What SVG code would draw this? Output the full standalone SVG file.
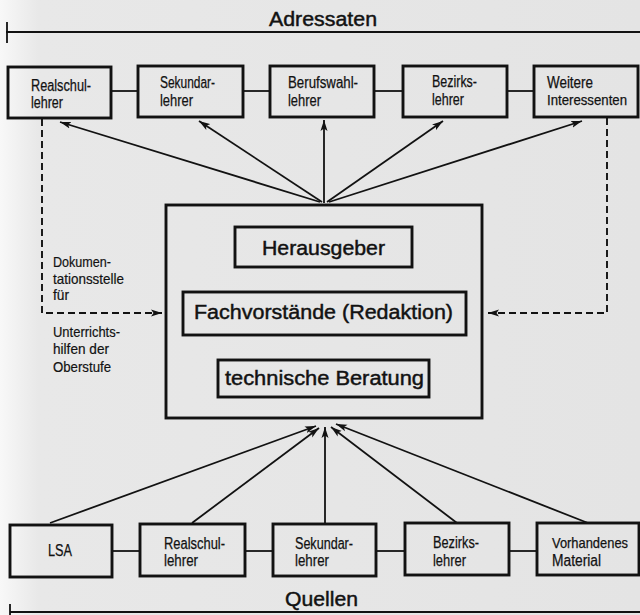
<svg xmlns="http://www.w3.org/2000/svg" width="640" height="615" viewBox="0 0 640 615">
  <defs>
    <linearGradient id="paper" x1="0" y1="0" x2="1" y2="0">
      <stop offset="0" stop-color="#f8f8f8"/>
      <stop offset="0.06" stop-color="#e8e8e8"/>
      <stop offset="1" stop-color="#e4e4e4"/>
    </linearGradient>
    <marker id="arr" markerUnits="userSpaceOnUse" markerWidth="12" markerHeight="8" refX="11" refY="4" orient="auto">
      <path d="M0,0.5 L11,4 L0,7.5 L2.5,4 z" fill="#121212"/>
    </marker>
    <style>
      .box { fill: none; stroke: #121212; stroke-width: 2.9; }
      .line { fill: none; stroke: #121212; stroke-width: 1.8; }
      .dash { fill: none; stroke: #121212; stroke-width: 1.9; stroke-dasharray: 7 4; }
      .lbl { font-family: "Liberation Sans", Arial, sans-serif; font-size: 16px; fill: #121212; stroke: #121212; stroke-width: 0.25; }
      .lbl.tight { font-size: 14.5px; }
      .side { font-family: "Liberation Sans", Arial, sans-serif; font-size: 14.5px; fill: #121212; stroke: #121212; stroke-width: 0.2; }
      .big { font-family: "Liberation Sans", Arial, sans-serif; font-size: 20px; fill: #121212; stroke: #121212; stroke-width: 0.45; }
    </style>
  </defs>

  <rect x="0" y="0" width="640" height="615" fill="url(#paper)"/>

  <!-- header / footer rules -->
  <g id="header">
    <line class="line" x1="6" y1="32" x2="640" y2="32"/>
    <line class="line" x1="7" y1="22" x2="7" y2="43"/>
    <text class="big" x="269" y="26" textLength="108" lengthAdjust="spacingAndGlyphs">Adressaten</text>
  </g>
  <g id="footer">
    <line class="line" x1="10" y1="612" x2="640" y2="612"/>
    <line class="line" x1="10" y1="604" x2="10" y2="615"/>
    <text class="big" x="285" y="606" textLength="73" lengthAdjust="spacingAndGlyphs">Quellen</text>
  </g>

  <g id="connectors">
    <!-- top row links -->
    <line class="line" x1="111" y1="91" x2="138" y2="91"/>
    <line class="line" x1="243" y1="91" x2="270" y2="91"/>
    <line class="line" x1="374" y1="91" x2="403" y2="91"/>
    <line class="line" x1="507" y1="91" x2="534" y2="91"/>
    <!-- bottom row links -->
    <line class="line" x1="112" y1="551" x2="140" y2="551"/>
    <line class="line" x1="245" y1="551" x2="273" y2="551"/>
    <line class="line" x1="376" y1="551" x2="405" y2="551"/>
    <line class="line" x1="509" y1="551" x2="537" y2="551"/>
    <!-- center to addressees -->
    <line class="line" x1="320" y1="202" x2="60" y2="122" marker-end="url(#arr)"/>
    <line class="line" x1="322" y1="202" x2="199" y2="121" marker-end="url(#arr)"/>
    <line class="line" x1="324" y1="203" x2="324" y2="120" marker-end="url(#arr)"/>
    <line class="line" x1="327" y1="202" x2="443" y2="121" marker-end="url(#arr)"/>
    <line class="line" x1="329" y1="202" x2="582" y2="121" marker-end="url(#arr)"/>
    <!-- sources to center -->
    <line class="line" x1="50" y1="523" x2="316" y2="426" marker-end="url(#arr)"/>
    <line class="line" x1="192" y1="523" x2="319" y2="428" marker-end="url(#arr)"/>
    <line class="line" x1="325" y1="523" x2="325" y2="427" marker-end="url(#arr)"/>
    <line class="line" x1="457" y1="523" x2="331" y2="427" marker-end="url(#arr)"/>
    <line class="line" x1="588" y1="523" x2="336" y2="424" marker-end="url(#arr)"/>
    <!-- dashed feedback -->
    <path class="dash" d="M42,119 V313 H162" marker-end="url(#arr)"/>
    <path class="dash" d="M607,118 V313 H488" marker-end="url(#arr)"/>
  </g>

  <!-- top row: Adressaten -->
  <g id="a-realschullehrer">
    <rect class="box" x="8" y="67" width="103" height="51"/>
    <text class="lbl" x="31" y="91" textLength="60" lengthAdjust="spacingAndGlyphs">Realschul-</text>
    <text class="lbl" x="31" y="108" textLength="32" lengthAdjust="spacingAndGlyphs">lehrer</text>
  </g>
  <g id="a-sekundarlehrer">
    <rect class="box" x="138" y="66" width="105" height="51"/>
    <text class="lbl" x="160" y="88" textLength="55" lengthAdjust="spacingAndGlyphs">Sekundar-</text>
    <text class="lbl" x="160" y="106" textLength="33" lengthAdjust="spacingAndGlyphs">lehrer</text>
  </g>
  <g id="a-berufswahllehrer">
    <rect class="box" x="270" y="66" width="104" height="51"/>
    <text class="lbl" x="288" y="88" textLength="70" lengthAdjust="spacingAndGlyphs">Berufswahl-</text>
    <text class="lbl" x="288" y="106" textLength="33" lengthAdjust="spacingAndGlyphs">lehrer</text>
  </g>
  <g id="a-bezirkslehrer">
    <rect class="box" x="403" y="66" width="104" height="51"/>
    <text class="lbl" x="432" y="87" textLength="45" lengthAdjust="spacingAndGlyphs">Bezirks-</text>
    <text class="lbl" x="432" y="105" textLength="32" lengthAdjust="spacingAndGlyphs">lehrer</text>
  </g>
  <g id="a-weitere">
    <rect class="box" x="534" y="66" width="104" height="51"/>
    <text class="lbl" x="547" y="88" textLength="46" lengthAdjust="spacingAndGlyphs">Weitere</text>
    <text class="lbl tight" x="547" y="105" textLength="80" lengthAdjust="spacingAndGlyphs">Interessenten</text>
  </g>

  <!-- center -->
  <g id="center">
    <rect class="box" x="166" y="205" width="316" height="213"/>
  </g>
  <g id="herausgeber">
    <rect class="box" x="235" y="227" width="177" height="40"/>
    <text class="big" x="262" y="255" textLength="123" lengthAdjust="spacingAndGlyphs">Herausgeber</text>
  </g>
  <g id="fachvorstaende">
    <rect class="box" x="183" y="292" width="283" height="43"/>
    <text class="big" x="194" y="319" textLength="259" lengthAdjust="spacingAndGlyphs">Fachvorstände (Redaktion)</text>
  </g>
  <g id="beratung">
    <rect class="box" x="218" y="360" width="211" height="37"/>
    <text class="big" x="225" y="385" textLength="199" lengthAdjust="spacingAndGlyphs">technische Beratung</text>
  </g>

  <!-- side label -->
  <g id="dokumentationsstelle">
    <text class="side" x="53" y="267" textLength="58" lengthAdjust="spacingAndGlyphs">Dokumen-</text>
    <text class="side" x="53" y="284" textLength="71" lengthAdjust="spacingAndGlyphs">tationsstelle</text>
    <text class="side" x="53" y="300" textLength="16" lengthAdjust="spacingAndGlyphs">für</text>
    <text class="side" x="53" y="337" textLength="67" lengthAdjust="spacingAndGlyphs">Unterrichts-</text>
    <text class="side" x="53" y="354" textLength="56" lengthAdjust="spacingAndGlyphs">hilfen der</text>
    <text class="side" x="53" y="372" textLength="58" lengthAdjust="spacingAndGlyphs">Oberstufe</text>
  </g>

  <!-- bottom row: Quellen -->
  <g id="q-lsa">
    <rect class="box" x="10" y="525" width="102" height="52"/>
    <text class="lbl" x="48" y="556" textLength="24" lengthAdjust="spacingAndGlyphs">LSA</text>
  </g>
  <g id="q-realschullehrer">
    <rect class="box" x="140" y="524" width="105" height="52"/>
    <text class="lbl" x="164" y="549" textLength="61" lengthAdjust="spacingAndGlyphs">Realschul-</text>
    <text class="lbl" x="164" y="566" textLength="34" lengthAdjust="spacingAndGlyphs">lehrer</text>
  </g>
  <g id="q-sekundarlehrer">
    <rect class="box" x="273" y="524" width="103" height="52"/>
    <text class="lbl" x="295" y="549" textLength="58" lengthAdjust="spacingAndGlyphs">Sekundar-</text>
    <text class="lbl" x="295" y="566" textLength="34" lengthAdjust="spacingAndGlyphs">lehrer</text>
  </g>
  <g id="q-bezirkslehrer">
    <rect class="box" x="405" y="523" width="104" height="52"/>
    <text class="lbl" x="433" y="548" textLength="46" lengthAdjust="spacingAndGlyphs">Bezirks-</text>
    <text class="lbl" x="433" y="566" textLength="33" lengthAdjust="spacingAndGlyphs">lehrer</text>
  </g>
  <g id="q-vorhandenes">
    <rect class="box" x="537" y="523" width="102" height="52"/>
    <text class="lbl tight" x="552" y="548" textLength="76" lengthAdjust="spacingAndGlyphs">Vorhandenes</text>
    <text class="lbl" x="552" y="566" textLength="49" lengthAdjust="spacingAndGlyphs">Material</text>
  </g>
</svg>
